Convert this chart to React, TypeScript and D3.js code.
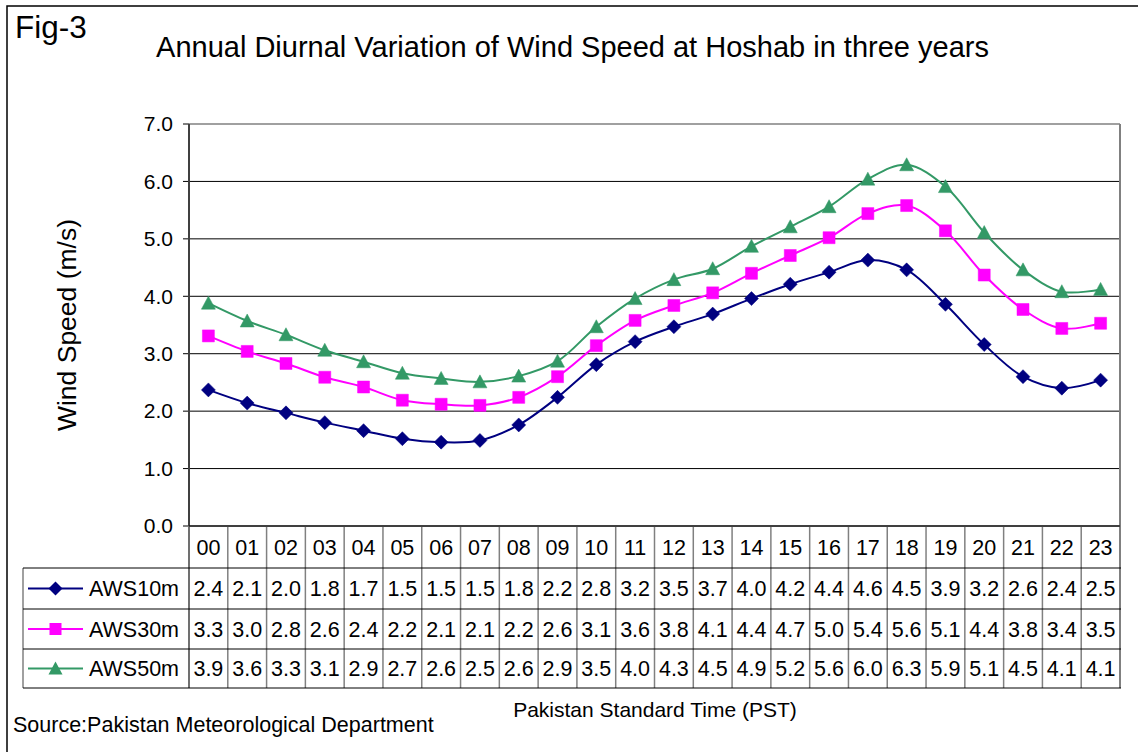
import React from 'react';
import * as d3 from 'd3';

const hours = ['00','01','02','03','04','05','06','07','08','09','10','11','12','13','14','15','16','17','18','19','20','21','22','23'];
const seriesNames = ['AWS10m', 'AWS30m', 'AWS50m'];
const aws10m = [2.37,2.14,1.97,1.80,1.66,1.52,1.46,1.49,1.76,2.24,2.81,3.21,3.47,3.69,3.96,4.21,4.42,4.63,4.46,3.86,3.16,2.60,2.40,2.54];
const aws30m = [3.31,3.04,2.83,2.59,2.42,2.19,2.12,2.10,2.24,2.60,3.14,3.58,3.84,4.06,4.40,4.71,5.02,5.44,5.58,5.14,4.37,3.77,3.44,3.53];
const aws50m = [3.88,3.57,3.33,3.06,2.86,2.66,2.57,2.51,2.61,2.87,3.47,3.96,4.29,4.48,4.87,5.21,5.56,6.04,6.29,5.91,5.11,4.46,4.08,4.12];
const yTicks = [0, 1, 2, 3, 4, 5, 6, 7];

const titleText = 'Annual Diurnal Variation of Wind Speed at Hoshab in three years';
const figLabel = 'Fig-3';
const yLabel = 'Wind Speed (m/s)';
const xLabel = 'Pakistan Standard Time (PST)';
const sourceText = 'Source:Pakistan Meteorological Department';

const colors = ['#000080', '#FF00FF', '#339966'];
const markers = [
  'M0,-7L7,0L0,7L-7,0Z',
  'M-6,-6L6,-6L6,6L-6,6Z',
  'M0,-7L7,6L-7,6Z',
];

const W = 1138, H = 752;
const L = 189, R = 1120, T = 124, B = 526;
const tableLeft = 23;
const rowBounds = [526, 568, 609, 649, 688];
const FONT = '"Liberation Sans", Arial, Helvetica, sans-serif';

export default function App() {
  const series = [aws10m, aws30m, aws50m];
  const x = d3.scaleBand<string>().domain(hours).range([L, R]);
  const y = d3.scaleLinear().domain([0, 7]).range([B, T]);
  const cx = (h: string) => (x(h) as number) + x.bandwidth() / 2;
  const line = d3.line<number>()
    .x((_, i) => cx(hours[i]))
    .y((d) => y(d))
    .curve(d3.curveCatmullRom.alpha(0.5));

  return (
    <svg width={W} height={H} style={{ position: 'absolute', left: 0, top: 0, background: '#fff' }} fontFamily={FONT}>
      <rect x={0} y={0} width={W} height={H} fill="#fff" />
      {/* outer frame */}
      <rect x={7} y={6} width={W + 20} height={H + 20} fill="none" stroke="#000" strokeWidth={1.5} />
      <text x={15} y={38} fontSize={31.5} fill="#000">{figLabel}</text>
      <text x={572.5} y={57} fontSize={29} textAnchor="middle" fill="#000">{titleText}</text>

      {/* gridlines */}
      {yTicks.map((t) => (
        <g key={t}>
          <line x1={L} x2={R} y1={y(t)} y2={y(t)} stroke={t === 7 ? '#808080' : '#000'} strokeWidth={t === 7 ? 1.5 : 1} />
          <line x1={L - 6} x2={L} y1={y(t)} y2={y(t)} stroke="#000" strokeWidth={1} />
          <text x={173} y={y(t)} dy="0.35em" fontSize={21} textAnchor="end" fill="#000">{t.toFixed(1)}</text>
        </g>
      ))}
      {/* plot border right */}
      <line x1={R} x2={R} y1={T} y2={rowBounds[4]} stroke="#808080" strokeWidth={2} />
      {/* y axis */}
      <line x1={L} x2={L} y1={T} y2={rowBounds[4]} stroke="#404040" strokeWidth={2} />

      {/* series lines */}
      {series.map((s, k) => (
        <g key={seriesNames[k]}>
          <path d={line(s) || ''} fill="none" stroke={colors[k]} strokeWidth={2} />
          {s.map((v, i) => (
            <path key={i} d={markers[k]} transform={`translate(${cx(hours[i])},${y(v)})`} fill={colors[k]} stroke={colors[k]} strokeWidth={0.5} />
          ))}
        </g>
      ))}

      {/* data table */}
      {hours.map((h, i) => (
        <g key={h}>
          <line x1={x(h) as number} x2={x(h) as number} y1={rowBounds[0]} y2={rowBounds[4]} stroke="#808080" strokeWidth={1.5} />
          <text x={cx(h)} y={(rowBounds[0] + rowBounds[1]) / 2} dy="0.36em" fontSize={21.5} textAnchor="middle" fill="#000">{h}</text>
          {series.map((s, k) => (
            <text key={k} x={cx(h)} y={(rowBounds[k + 1] + rowBounds[k + 2]) / 2} dy="0.36em" fontSize={21.5} textAnchor="middle" fill="#000">
              {s[i].toFixed(1)}
            </text>
          ))}
        </g>
      ))}
      <line x1={tableLeft} x2={tableLeft} y1={rowBounds[1]} y2={rowBounds[4]} stroke="#808080" strokeWidth={1.5} />
      {rowBounds.slice(1).map((rb, j) => (
        <line key={j} x1={tableLeft} x2={R + 1} y1={rb} y2={rb} stroke="#000" strokeWidth={1} />
      ))}
      <line x1={L} x2={R} y1={B} y2={B} stroke="#000" strokeWidth={1} />
      {seriesNames.map((n, k) => {
        const yc = (rowBounds[k + 1] + rowBounds[k + 2]) / 2;
        return (
          <g key={n}>
            <line x1={28} x2={83} y1={yc} y2={yc} stroke={colors[k]} strokeWidth={2} />
            <path d={markers[k]} transform={`translate(55.5,${yc})`} fill={colors[k]} />
            <text x={89} y={yc} dy="0.36em" fontSize={21.5} fill="#000">{n}</text>
          </g>
        );
      })}

      {/* axis titles */}
      <text transform="translate(67,325) rotate(-90)" dy="0.35em" fontSize={26.5} textAnchor="middle" fill="#000">{yLabel}</text>
      <text x={655} y={717} fontSize={21} textAnchor="middle" fill="#000">{xLabel}</text>
      <text x={13} y={732} fontSize={21.5} fill="#000">{sourceText}</text>
    </svg>
  );
}
